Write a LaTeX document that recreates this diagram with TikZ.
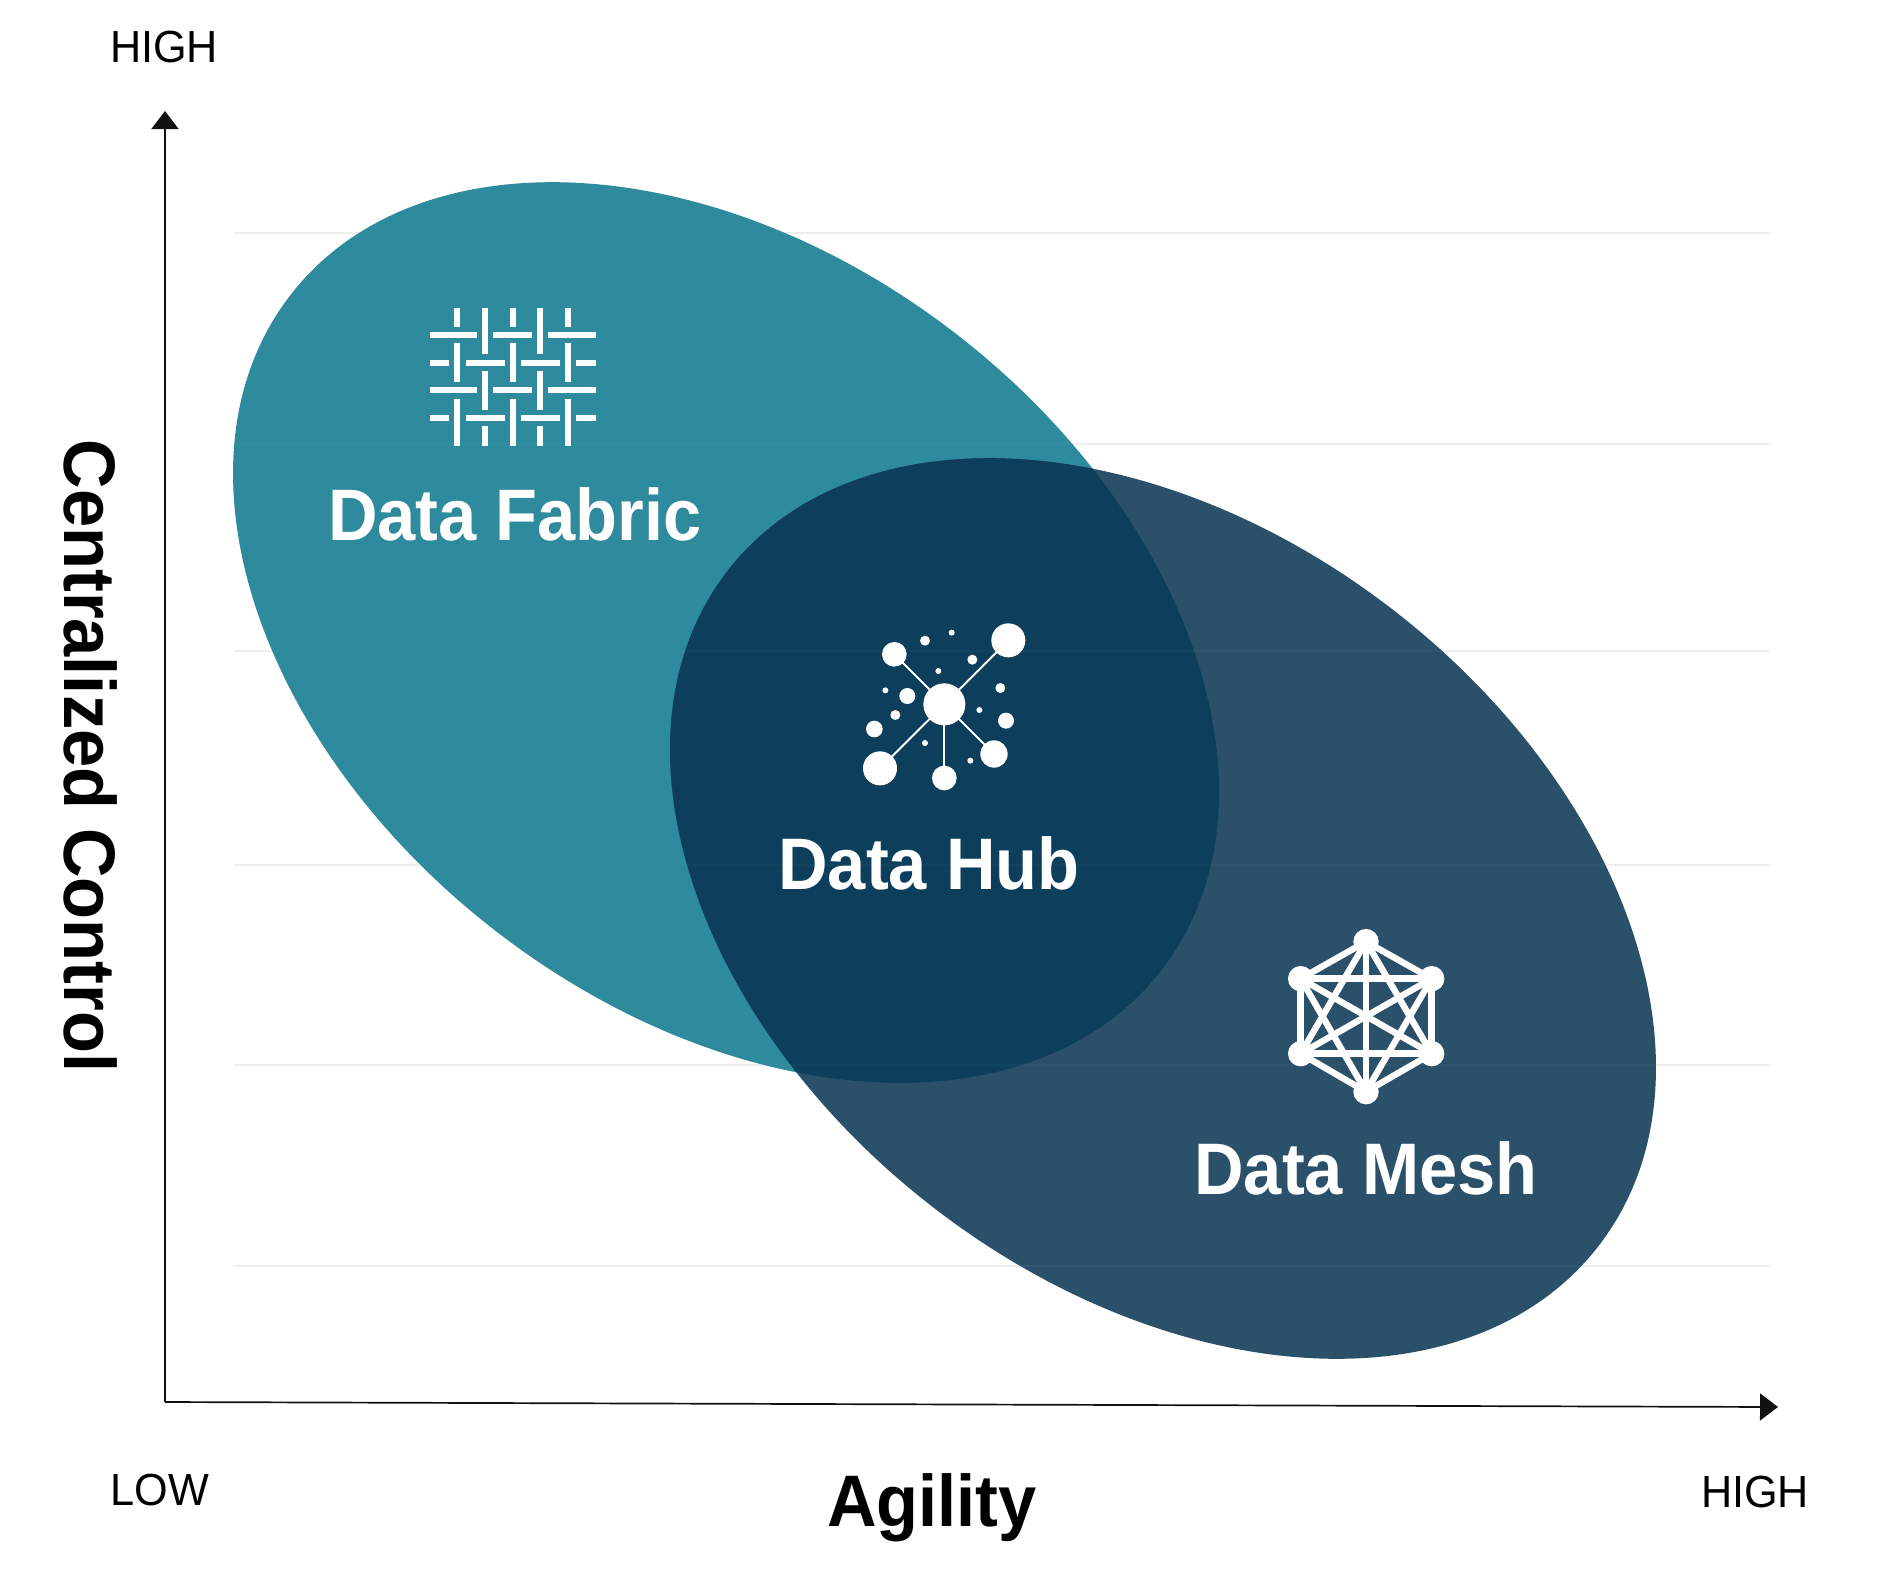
\documentclass[tikz,border=0pt]{standalone}
\usepackage{fontspec}
\setmainfont{Liberation Sans}
\newfontfamily\labelfont[FakeStretch=0.94]{Liberation Sans Bold}
\newfontfamily\tickfont[FakeStretch=0.96]{Liberation Sans}
\usetikzlibrary{arrows.meta}
\definecolor{fabriccol}{RGB}{46,138,157}
\definecolor{meshcol}{RGB}{42,80,106}
\definecolor{hubcol}{RGB}{13,63,92}
\definecolor{gridcol}{RGB}{238,238,238}
\definecolor{inkcol}{RGB}{17,17,17}
\tikzset{
  fabricshape/.style={shift={(726,632.5)},rotate=-37.8},
  meshshape/.style={shift={(1163,908.5)},rotate=-37.8},
  gridline/.style={draw=gridcol,line width=1.6pt},
  gridover/.style={draw=white,opacity=.025,line width=1.6pt},
  axisline/.style={draw=inkcol,line width=1.7pt,-{Triangle[length=18pt,width=27pt]}},
  regionlabel/.style={font=\labelfont\fontsize{73}{73}\selectfont,text=white,anchor=base,inner sep=0pt},
  axistitle/.style={font=\labelfont\fontsize{73}{73}\selectfont,text=black,anchor=base,inner sep=0pt},
  ticklabel/.style={font=\tickfont\fontsize{45}{45}\selectfont,text=black,anchor=base,inner sep=0pt},
  weave/.style={draw=white,line width=5.7pt},
  spoke/.style={draw=white,line width=1.9pt},
  meshedge/.style={draw=white,line width=6.4pt},
}
\begin{document}
\begin{tikzpicture}[x=1pt,y=-1pt]
\useasboundingbox (0,0) rectangle (1902,1590);
\fill[white] (0,0) rectangle (1902,1590);
% grid
\foreach \gy in {233,444,651,865,1065,1266}{
  \draw[gridline] (234,\gy) -- (1770,\gy);
}
% ellipses
\fill[fabriccol,fabricshape] (0,0) ellipse [x radius=551,y radius=377];
\fill[meshcol,meshshape] (0,0) ellipse [x radius=551,y radius=377];
\begin{scope}
  \clip[fabricshape] (0,0) ellipse [x radius=551,y radius=377];
  \fill[hubcol,meshshape] (0,0) ellipse [x radius=551,y radius=377];
\end{scope}
\foreach \gy in {233,444,651,865,1065,1266}{
  \draw[gridover] (234,\gy) -- (1770,\gy);
}
% axes
\coordinate (origin) at (165,1402);
\coordinate (ytip) at (165,111);
\coordinate (xtip) at (1778,1407);
\draw[axisline] (origin) -- (ytip);
\draw[axisline] (origin) -- (xtip);
% axis text
\node[ticklabel] (yhigh) at (164,62) {HIGH};
\node[ticklabel] (xlow) at (160,1505) {LOW};
\node[ticklabel] (xhigh) at (1755,1507) {HIGH};
\node[axistitle] (agility) at (932,1526) {Agility};
\node[axistitle,rotate=-90] (central) at (64,756) {Centralized Control};
% region labels
\node[regionlabel] (fabric) at (515,540) {Data Fabric};
\node[regionlabel] (hub) at (929,889) {Data Hub};
\node[regionlabel] (mesh) at (1366,1194) {Data Mesh};
% fabric icon
\begin{scope}[shift={(400,281)},x=.33333pt,y=-.33333pt]
  \foreach \ry/\segs in {163/{90/231,280/396,445/587},245/{90/148,198/314,363/479,529/587},328/{90/231,280/396,445/587},410/{90/148,198/314,363/479,529/587}}{
    \foreach \a/\b in \segs { \draw[weave] (\a,\ry) -- (\b,\ry); }
  }
  \foreach \cx/\segs in {172/{80/138,187/303,353/494},255/{80/220,270/386,436/494},338/{80/138,187/303,353/494},421/{80/220,270/386,436/494},503/{80/138,187/303,353/494}}{
    \foreach \a/\b in \segs { \draw[weave] (\cx,\a) -- (\cx,\b); }
  }
\end{scope}
% hub icon
\begin{scope}[shift={(840,601)},x=.33333pt,y=-.33333pt]
  \coordinate (hc) at (313,310);
  \foreach \n/\px/\py/\r in {ha/163/160/37,hb/505/118/51,hd/120/502/51,he/313/531/37,hf/462/459/41}{
    \coordinate (\n) at (\px,\py);
    \draw[spoke] (hc) -- (\n);
    \fill[white] (\n) circle [radius=\r*.33333pt];
  }
  \fill[white] (hc) circle [radius=21pt];
  \foreach \px/\py/\r in {103/384/25,202/285/24,498/359/24,255/119/15,335/95/9,397/176/15,295/210/9,136/268/9,166/342/15,481/261/15,418/327/9,255/426/9,391/479/9}{
    \fill[white] (\px,\py) circle [radius=\r*.33333pt];
  }
\end{scope}
% mesh icon
\begin{scope}[shift={(1270,911)},x=.33333pt,y=-.33333pt]
  \coordinate (m1) at (288,92);
  \coordinate (m2) at (485,203);
  \coordinate (m3) at (485,428);
  \coordinate (m4) at (288,542);
  \coordinate (m5) at (92,428);
  \coordinate (m6) at (92,203);
  \foreach \a/\b in {1/2,1/3,1/4,1/5,1/6,2/3,2/4,2/5,2/6,3/4,3/5,3/6,4/5,4/6,5/6}{
    \draw[meshedge] (m\a) -- (m\b);
  }
  \foreach \a in {1,...,6}{ \fill[white] (m\a) circle [radius=12.7pt]; }
\end{scope}
\end{tikzpicture}
\end{document}
